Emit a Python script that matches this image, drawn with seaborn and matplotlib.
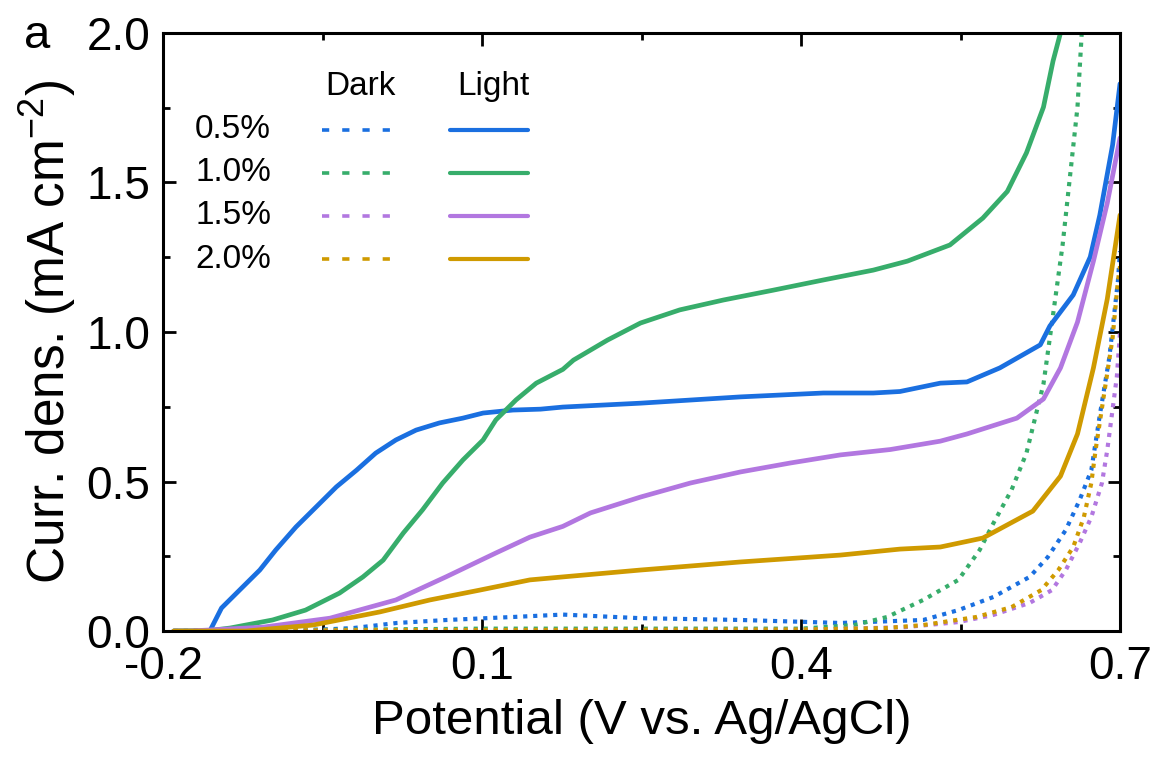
import numpy as np
import pandas as pd
import matplotlib
matplotlib.use("Agg")
import matplotlib.pyplot as plt
import seaborn as sns

sns.set_theme(style="ticks")
plt.rcParams['font.family'] = ['Liberation Sans', 'DejaVu Sans']
plt.rcParams['mathtext.fontset'] = 'custom'
plt.rcParams['mathtext.rm'] = 'Liberation Sans'
plt.rcParams['text.color'] = 'black'
plt.rcParams['axes.labelcolor'] = 'black'

# ------------------------------
# data (V vs. Ag/AgCl, mA cm-2)
# ------------------------------
concentrations = ['0.5%', '1.0%', '1.5%', '2.0%']
colors = ['#1a6fe0', '#37ad6b', '#b277e0', '#cf9a00']

light_05_x = [-0.19, -0.165, -0.156, -0.145, -0.128, -0.109, -0.094, -0.075, -0.056, -0.037, -0.018, 0.0,
              0.019, 0.038, 0.060, 0.082, 0.101, 0.129, 0.155, 0.176, 0.249, 0.343, 0.421, 0.468, 0.493,
              0.531, 0.556, 0.587, 0.625, 0.634, 0.656, 0.672, 0.681, 0.693, 0.700]
light_05_y = [0.0, 0.0, 0.0, 0.077, 0.137, 0.204, 0.271, 0.348, 0.415, 0.482, 0.538, 0.595,
              0.639, 0.672, 0.696, 0.712, 0.729, 0.739, 0.742, 0.749, 0.762, 0.783, 0.796, 0.796, 0.801,
              0.829, 0.833, 0.880, 0.957, 1.02, 1.124, 1.251, 1.391, 1.625, 1.83]

light_10_x = [-0.19, -0.16, -0.137, -0.097, -0.066, -0.034, -0.012, 0.007, 0.026, 0.044, 0.063, 0.082,
              0.101, 0.113, 0.132, 0.151, 0.176, 0.186, 0.218, 0.249, 0.286, 0.327, 0.374, 0.421, 0.468,
              0.500, 0.540, 0.571, 0.594, 0.612, 0.628, 0.637, 0.644]
light_10_y = [0.0, 0.0, 0.01, 0.037, 0.07, 0.127, 0.181, 0.237, 0.328, 0.405, 0.495, 0.572,
              0.639, 0.706, 0.773, 0.829, 0.875, 0.906, 0.973, 1.03, 1.074, 1.107, 1.14, 1.174, 1.207,
              1.237, 1.291, 1.381, 1.47, 1.599, 1.752, 1.906, 2.0]

light_15_x = [-0.19, -0.175, -0.106, -0.043, 0.019, 0.066, 0.113, 0.145, 0.176, 0.202, 0.249, 0.296,
              0.343, 0.390, 0.437, 0.484, 0.531, 0.556, 0.603, 0.628, 0.644, 0.660, 0.675, 0.688, 0.700]
light_15_y = [0.0, 0.0, 0.013, 0.043, 0.104, 0.181, 0.261, 0.314, 0.35, 0.395, 0.448, 0.495,
              0.532, 0.562, 0.589, 0.607, 0.635, 0.659, 0.712, 0.776, 0.880, 1.033, 1.237, 1.431, 1.649]

light_20_x = [-0.19, -0.122, -0.059, 0.004, 0.051, 0.098, 0.145, 0.176, 0.249, 0.343, 0.437, 0.493,
              0.531, 0.571, 0.618, 0.644, 0.660, 0.675, 0.688, 0.700]
light_20_y = [0.0, 0.0, 0.02, 0.064, 0.104, 0.137, 0.171, 0.181, 0.204, 0.231, 0.254, 0.274,
              0.281, 0.311, 0.401, 0.518, 0.659, 0.880, 1.110, 1.391]

dark_05_x = [-0.19, -0.10, -0.05, -0.021, 0.02, 0.067, 0.129, 0.176, 0.249, 0.343, 0.437, 0.500,
             0.515, 0.548, 0.581, 0.615, 0.632, 0.649, 0.662, 0.673, 0.681, 0.690, 0.698, 0.700]
dark_05_y = [0.0, 0.002, 0.005, 0.01, 0.027, 0.037, 0.047, 0.055, 0.043, 0.037, 0.027, 0.035,
             0.037, 0.07, 0.114, 0.181, 0.247, 0.338, 0.438, 0.538, 0.722, 0.916, 1.17, 1.27]

dark_10_x = [-0.19, -0.05, 0.1, 0.25, 0.40, 0.45, 0.481, 0.515, 0.548, 0.568, 0.581, 0.598, 0.612,
             0.628, 0.637, 0.646, 0.653, 0.660, 0.664]
dark_10_y = [0.0, 0.004, 0.008, 0.008, 0.008, 0.02, 0.047, 0.104, 0.171, 0.271, 0.361, 0.472, 0.595,
             0.826, 1.057, 1.291, 1.522, 1.752, 2.0]

dark_15_x = [-0.19, 0.0, 0.2, 0.40, 0.498, 0.548, 0.581, 0.615, 0.636, 0.649, 0.662, 0.673, 0.683,
             0.688, 0.697, 0.700]
dark_15_y = [0.0, 0.002, 0.003, 0.004, 0.013, 0.030, 0.054, 0.094, 0.137, 0.204, 0.294, 0.381, 0.495,
             0.605, 0.85, 1.0]

dark_20_x = [-0.19, 0.0, 0.2, 0.40, 0.48, 0.515, 0.565, 0.598, 0.626, 0.642, 0.656, 0.666, 0.673,
             0.677, 0.693, 0.698, 0.700]
dark_20_y = [0.0, 0.003, 0.004, 0.005, 0.01, 0.02, 0.047, 0.08, 0.137, 0.204, 0.281, 0.381, 0.495,
             0.605, 0.98, 1.17, 1.22]

series = [
    ('0.5%', 'Dark', dark_05_x, dark_05_y), ('1.0%', 'Dark', dark_10_x, dark_10_y),
    ('1.5%', 'Dark', dark_15_x, dark_15_y), ('2.0%', 'Dark', dark_20_x, dark_20_y),
    ('0.5%', 'Light', light_05_x, light_05_y), ('1.0%', 'Light', light_10_x, light_10_y),
    ('1.5%', 'Light', light_15_x, light_15_y), ('2.0%', 'Light', light_20_x, light_20_y),
]
frames = []
for conc, cond, xs, ys in series:
    frames.append(pd.DataFrame({'potential': xs, 'current': ys, 'conc': conc, 'cond': cond}))
df = pd.concat(frames, ignore_index=True)

# ------------------------------
# figure
# ------------------------------
fig = plt.figure(figsize=(11.58, 7.58), dpi=100)
ax = fig.add_axes([0.1408, 0.1675, 0.8264, 0.789])

palette = dict(zip(concentrations, colors))
for cond, dash, lw in [('Dark', (1.0, 1.4), 3.0), ('Light', '', 3.4)]:
    sub = df[df['cond'] == cond]
    sns.lineplot(data=sub, x='potential', y='current', hue='conc', palette=palette,
                 estimator=None, sort=False, lw=lw, legend=False, ax=ax)
    if dash:
        for ln in ax.lines[-4:]:
            ln.set_dashes(dash)

ax.set_xlim(-0.2, 0.7)
ax.set_ylim(0, 2.0)
ax.set_xticks([-0.2, 0.1, 0.4, 0.7])
ax.set_xticks([-0.05, 0.25, 0.55], minor=True)
ax.set_yticks([0.0, 0.5, 1.0, 1.5, 2.0])
ax.set_yticks([0.25, 0.75, 1.25, 1.75], minor=True)
ax.set_xticklabels(['-0.2', '0.1', '0.4', '0.7'])
ax.set_yticklabels(['0.0', '0.5', '1.0', '1.5', '2.0'])
ax.tick_params(which='both', direction='in', top=True, right=True, width=2.0,
               labelsize=33, colors='black')
ax.tick_params(axis='x', pad=10)
ax.tick_params(axis='y', pad=9)
ax.tick_params(which='major', length=9)
ax.tick_params(which='minor', length=5)
for s in ax.spines.values():
    s.set_linewidth(2.2)
    s.set_color('black')

ax.set_xlabel('Potential (V vs. Ag/AgCl)', fontsize=35.5, labelpad=7)
ax.set_ylabel('Curr. dens. (mA cm$^{\\mathregular{-2}}$)', fontsize=37, labelpad=6)

# hand-made legend: two columns (Dark / Light)
ax.text(0.206, 0.911, 'Dark', transform=ax.transAxes, ha='center', va='center', fontsize=24)
ax.text(0.345, 0.911, 'Light', transform=ax.transAxes, ha='center', va='center', fontsize=24)
rows = [0.838, 0.766, 0.694, 0.622]
for conc, col, ry in zip(concentrations, colors, rows):
    ax.text(0.113, ry, conc, transform=ax.transAxes, ha='right', va='center', fontsize=24)
    ax.plot([0.166, 0.237], [ry, ry], transform=ax.transAxes, color=col, lw=2.6,
            dashes=(2, 3.6))
    ax.plot([0.300, 0.381], [ry, ry], transform=ax.transAxes, color=col, lw=3.0)

fig.text(0.0205, 0.9367, 'a', fontsize=34, va='baseline', ha='left')

fig.savefig('out.png', dpi=100)
